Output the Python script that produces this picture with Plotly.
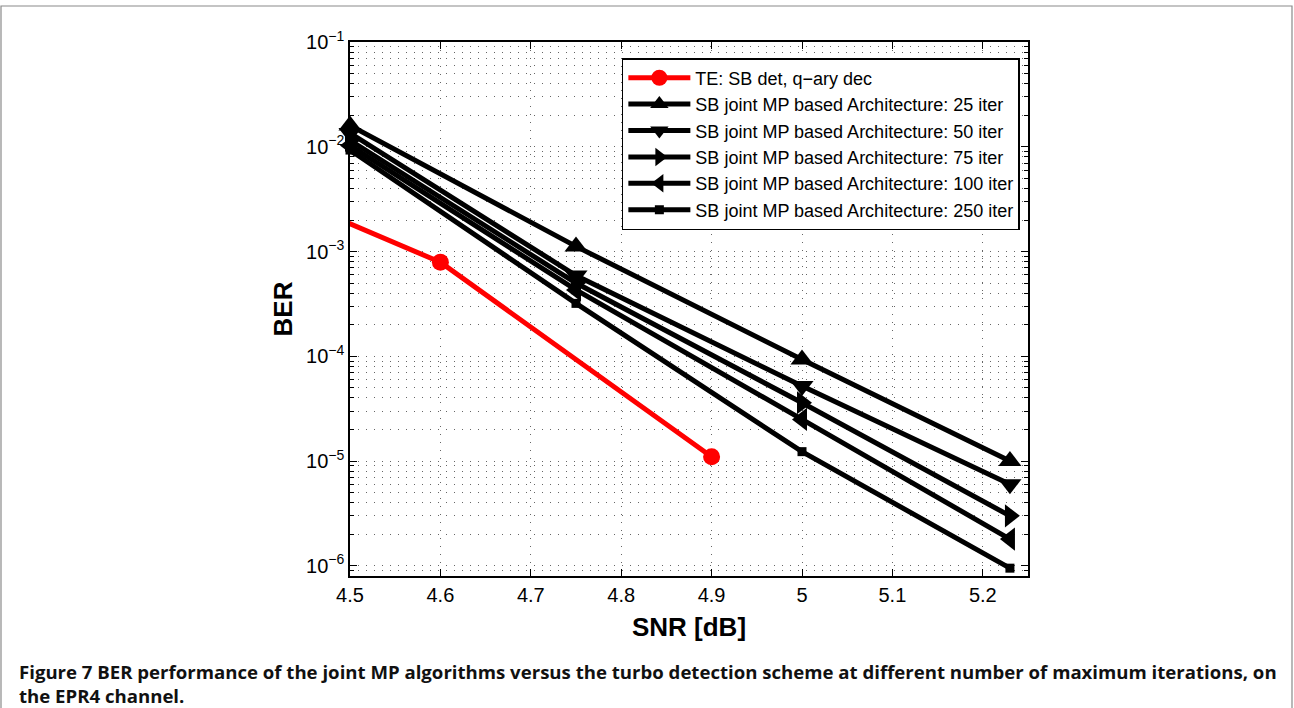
import plotly.graph_objects as go

snr_te = [4.4, 4.6, 4.9]
ber_te = [4.3e-3, 7.9e-4, 1.1e-5]

snr_mp = [4.5, 4.75, 5.0, 5.23]
ber_25 = [1.6e-2, 1.12e-3, 9.3e-5, 1.0e-5]
ber_50 = [1.35e-2, 5.9e-4, 5.2e-5, 6.0e-6]
ber_75 = [1.15e-2, 5.0e-4, 3.6e-5, 3.0e-6]
ber_100 = [1.03e-2, 4.3e-4, 2.5e-5, 1.8e-6]
ber_250 = [9.3e-3, 3.2e-4, 1.23e-5, 9.5e-7]

names = ["TE: SB det, q\u2212ary dec",
         "SB joint MP based Architecture: 25 iter",
         "SB joint MP based Architecture: 50 iter",
         "SB joint MP based Architecture: 75 iter",
         "SB joint MP based Architecture: 100 iter",
         "SB joint MP based Architecture: 250 iter"]

x_ticks = [4.5, 4.6, 4.7, 4.8, 4.9, 5.0, 5.1, 5.2]
x_ticklabels = ["4.5", "4.6", "4.7", "4.8", "4.9", "5", "5.1", "5.2"]
y_ticks = [1e-6, 1e-5, 1e-4, 1e-3, 1e-2, 1e-1]
y_ticklabels = ["10<sup>\u22126</sup>", "10<sup>\u22125</sup>", "10<sup>\u22124</sup>",
                "10<sup>\u22123</sup>", "10<sup>\u22122</sup>", "10<sup>\u22121</sup>"]

fig = go.Figure()
fig.add_trace(go.Scatter(x=snr_te, y=ber_te, name=names[0], mode="lines+markers",
                         line=dict(color="#ff0000", width=5),
                         marker=dict(symbol="circle", size=17, color="#ff0000")))
series = [ber_25, ber_50, ber_75, ber_100, ber_250]
symbols = ["triangle-up", "triangle-down", "triangle-right", "triangle-left", "square"]
sizes = [20, 20, 20, 20, 9]
for i, s in enumerate(series):
    fig.add_trace(go.Scatter(x=snr_mp, y=s, name=names[i + 1], mode="lines+markers",
                             cliponaxis=False,
                             line=dict(color="black", width=5),
                             marker=dict(symbol=symbols[i], size=sizes[i], color="black")))

L, R, T, B = 350, 266, 42, 132
GRID = "#666666"
DASH = "1px,7px"
fig.update_layout(
    width=1294, height=708,
    margin=dict(l=L, r=R, t=T, b=B, pad=0),
    paper_bgcolor="white", plot_bgcolor="white",
    font=dict(family="Liberation Sans, Arial, sans-serif", color="black", size=19),
    showlegend=True,
    legend=dict(x=0.988, y=0.970, xanchor="right", yanchor="top",
                bgcolor="white", bordercolor="black", borderwidth=1.5,
                font=dict(size=18, family="Liberation Sans, Arial, sans-serif"),
                itemwidth=62, tracegroupgap=0),
    xaxis=dict(range=[4.5, 5.25], tickvals=x_ticks, ticktext=x_ticklabels,
               showline=True, linecolor="black", linewidth=1.5, mirror="ticks",
               ticks="inside", ticklen=7, tickcolor="black",
               showgrid=True, gridcolor=GRID, griddash=DASH, gridwidth=1,
               zeroline=False,
               tickfont=dict(size=20),
               title=dict(text="<b>SNR [dB]</b>", font=dict(size=26), standoff=13)),
    yaxis=dict(type="log", range=[-6.097, -1], tickvals=y_ticks, ticktext=y_ticklabels,
               showline=True, linecolor="black", linewidth=1.5, mirror="ticks",
               ticks="inside", ticklen=7, tickcolor="black",
               showgrid=True, gridcolor=GRID, griddash=DASH, gridwidth=1,
               zeroline=False,
               minor=dict(ticks="inside", ticklen=4, tickcolor="black", showgrid=True,
                          gridcolor=GRID, griddash=DASH, gridwidth=1,
                          dtick="D1"),
               tickfont=dict(size=20),
               title=dict(text="<b>BER</b>", font=dict(size=26), standoff=6)),
)

W, H = 1294, 708
pw, ph = W - L - R, H - T - B
def px(xp):
    return (xp - L) / pw
def py(yp):
    return (H - B - yp) / ph

fig.add_shape(type="rect", xref="paper", yref="paper",
              x0=px(1), x1=px(1292), y0=py(720), y1=py(6),
              line=dict(color="#8a8a8a", width=1.2), fillcolor="rgba(0,0,0,0)", layer="below")

cap_font = dict(family="Liberation Sans Narrow, Open Sans, sans-serif", size=18.6, color="#111")
fig.add_annotation(xref="paper", yref="paper", x=px(17), y=py(671), xanchor="left", yanchor="middle",
                   showarrow=False, align="left", font=cap_font,
                   text="<b>Figure 7</b> <b>BER performance of the joint MP algorithms versus the turbo detection scheme at different number of maximum iterations, on</b>")
fig.add_annotation(xref="paper", yref="paper", x=px(17), y=py(695), xanchor="left", yanchor="middle",
                   showarrow=False, align="left", font=cap_font,
                   text="<b>the EPR4 channel.</b>")

fig.write_html("out.html")
